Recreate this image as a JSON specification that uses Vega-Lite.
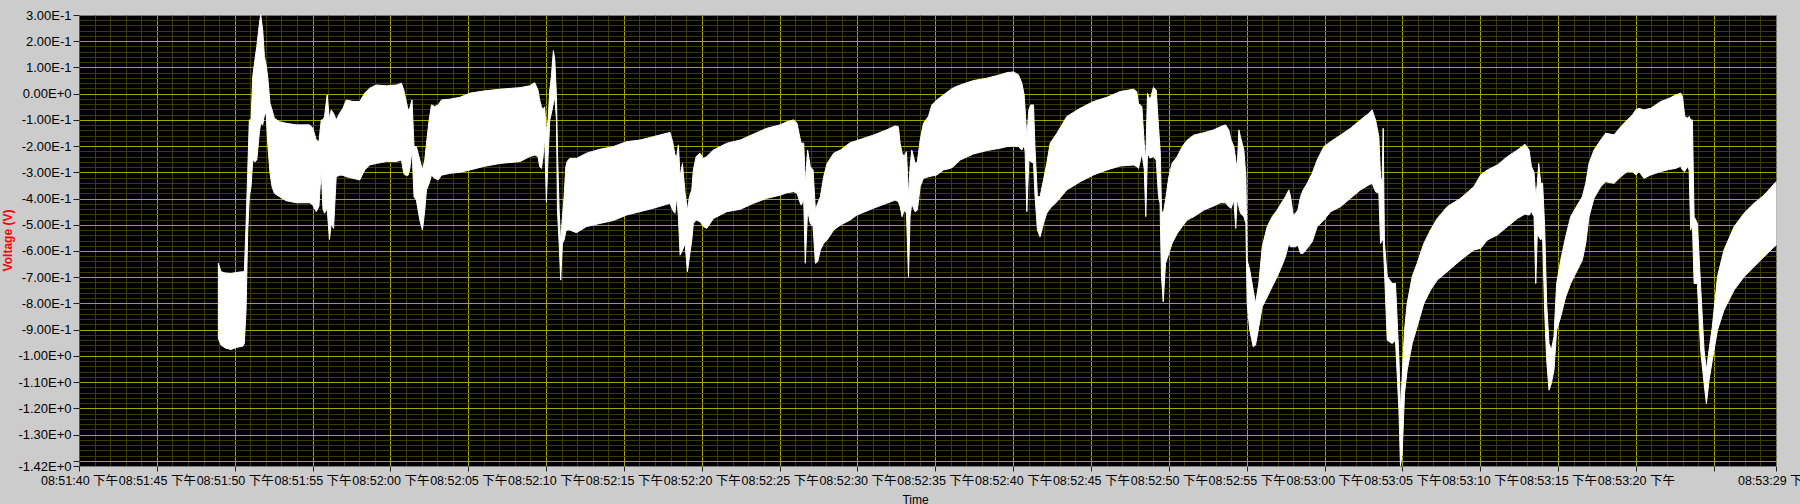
{
  "$schema": "https://vega.github.io/schema/vega-lite/v6.json",
  "width": 1697,
  "height": 451,
  "autosize": {"type": "none"},
  "padding": {"left": 79, "top": 15, "right": 24, "bottom": 38},
  "background": "#cccccc",
  "config": {
    "view": {"fill": "#000000", "stroke": "#7a7a7a", "strokeWidth": 1},
    "axis": {"labelFont": "Liberation Sans, Noto Sans CJK SC", "titleFont": "Liberation Sans"}
  },
  "data": {
    "values": [
      {"t": 8.95, "hi": -0.647, "lo": -0.934},
      {"t": 9.12, "hi": -0.679, "lo": -0.959},
      {"t": 9.4, "hi": -0.684, "lo": -0.97},
      {"t": 9.76, "hi": -0.686, "lo": -0.976},
      {"t": 10.1, "hi": -0.682, "lo": -0.968},
      {"t": 10.52, "hi": -0.679, "lo": -0.963},
      {"t": 10.62, "hi": -0.679, "lo": -0.953},
      {"t": 10.73, "hi": -0.501, "lo": -0.825},
      {"t": 10.84, "hi": -0.291, "lo": -0.52},
      {"t": 10.94, "hi": -0.1, "lo": -0.393},
      {"t": 11.05, "hi": -0.1, "lo": -0.355},
      {"t": 11.16, "hi": 0.065, "lo": -0.253},
      {"t": 11.3, "hi": 0.13, "lo": -0.26},
      {"t": 11.42, "hi": 0.18, "lo": -0.253},
      {"t": 11.59, "hi": 0.269, "lo": -0.145},
      {"t": 11.67, "hi": 0.3, "lo": -0.113},
      {"t": 11.8, "hi": 0.243, "lo": -0.119},
      {"t": 11.91, "hi": 0.141, "lo": -0.081},
      {"t": 12.02, "hi": 0.11, "lo": -0.075},
      {"t": 12.12, "hi": 0.065, "lo": -0.189},
      {"t": 12.27, "hi": -0.037, "lo": -0.304},
      {"t": 12.4, "hi": -0.062, "lo": -0.355},
      {"t": 12.55, "hi": -0.094, "lo": -0.38},
      {"t": 12.88, "hi": -0.107, "lo": -0.393},
      {"t": 13.3, "hi": -0.113, "lo": -0.408},
      {"t": 13.95, "hi": -0.119, "lo": -0.416},
      {"t": 14.81, "hi": -0.119, "lo": -0.416},
      {"t": 15.02, "hi": -0.132, "lo": -0.425},
      {"t": 15.24, "hi": -0.177, "lo": -0.45},
      {"t": 15.41, "hi": -0.183, "lo": -0.43},
      {"t": 15.56, "hi": -0.1, "lo": -0.291},
      {"t": 15.67, "hi": -0.1, "lo": -0.44},
      {"t": 15.77, "hi": -0.087, "lo": -0.456},
      {"t": 15.94, "hi": -0.005, "lo": -0.44},
      {"t": 16.09, "hi": -0.1, "lo": -0.556},
      {"t": 16.2, "hi": -0.062, "lo": -0.495},
      {"t": 16.35, "hi": -0.075, "lo": -0.514},
      {"t": 16.52, "hi": -0.1, "lo": -0.317},
      {"t": 16.74, "hi": -0.075, "lo": -0.311},
      {"t": 16.95, "hi": -0.056, "lo": -0.311},
      {"t": 17.17, "hi": -0.024, "lo": -0.317},
      {"t": 17.6, "hi": -0.03, "lo": -0.323},
      {"t": 18.03, "hi": -0.03, "lo": -0.329},
      {"t": 18.35, "hi": 0.002, "lo": -0.291},
      {"t": 18.67, "hi": 0.021, "lo": -0.272},
      {"t": 19.1, "hi": 0.033, "lo": -0.266},
      {"t": 19.74, "hi": 0.03, "lo": -0.259},
      {"t": 20.39, "hi": 0.033, "lo": -0.259},
      {"t": 20.71, "hi": 0.04, "lo": -0.253},
      {"t": 20.86, "hi": 0.014, "lo": -0.304},
      {"t": 20.97, "hi": -0.017, "lo": -0.311},
      {"t": 21.14, "hi": -0.062, "lo": -0.311},
      {"t": 21.24, "hi": -0.056, "lo": -0.291},
      {"t": 21.39, "hi": -0.024, "lo": -0.215},
      {"t": 21.52, "hi": -0.202, "lo": -0.393},
      {"t": 21.67, "hi": -0.202, "lo": -0.406},
      {"t": 21.89, "hi": -0.253, "lo": -0.482},
      {"t": 22.06, "hi": -0.291, "lo": -0.52},
      {"t": 22.21, "hi": -0.253, "lo": -0.444},
      {"t": 22.32, "hi": -0.189, "lo": -0.367},
      {"t": 22.49, "hi": -0.1, "lo": -0.342},
      {"t": 22.64, "hi": -0.043, "lo": -0.311},
      {"t": 22.85, "hi": -0.049, "lo": -0.323},
      {"t": 23.07, "hi": -0.043, "lo": -0.329},
      {"t": 23.28, "hi": -0.024, "lo": -0.311},
      {"t": 23.82, "hi": -0.021, "lo": -0.304},
      {"t": 24.46, "hi": -0.014, "lo": -0.3},
      {"t": 25.11, "hi": 0.002, "lo": -0.291},
      {"t": 25.97, "hi": 0.01, "lo": -0.278},
      {"t": 27.04, "hi": 0.017, "lo": -0.266},
      {"t": 28.33, "hi": 0.023, "lo": -0.259},
      {"t": 28.95, "hi": 0.03, "lo": -0.24},
      {"t": 29.27, "hi": 0.042, "lo": -0.234},
      {"t": 29.48, "hi": 0.014, "lo": -0.24},
      {"t": 29.59, "hi": -0.024, "lo": -0.278},
      {"t": 29.7, "hi": -0.049, "lo": -0.285},
      {"t": 29.81, "hi": -0.062, "lo": -0.24},
      {"t": 29.91, "hi": -0.05, "lo": -0.164},
      {"t": 30.02, "hi": -0.151, "lo": -0.412},
      {"t": 30.13, "hi": -0.1, "lo": -0.24},
      {"t": 30.24, "hi": 0.014, "lo": -0.1},
      {"t": 30.34, "hi": 0.065, "lo": -0.075},
      {"t": 30.47, "hi": 0.164, "lo": -0.037},
      {"t": 30.56, "hi": 0.129, "lo": -0.011},
      {"t": 30.67, "hi": -0.011, "lo": -0.1},
      {"t": 30.73, "hi": -0.215, "lo": -0.444},
      {"t": 30.84, "hi": -0.444, "lo": -0.571},
      {"t": 30.94, "hi": -0.571, "lo": -0.711},
      {"t": 31.05, "hi": -0.469, "lo": -0.571},
      {"t": 31.16, "hi": -0.393, "lo": -0.558},
      {"t": 31.27, "hi": -0.278, "lo": -0.526},
      {"t": 31.35, "hi": -0.259, "lo": -0.52},
      {"t": 31.52, "hi": -0.247, "lo": -0.52},
      {"t": 31.95, "hi": -0.247, "lo": -0.53},
      {"t": 32.6, "hi": -0.227, "lo": -0.507},
      {"t": 33.45, "hi": -0.212, "lo": -0.495},
      {"t": 34.31, "hi": -0.202, "lo": -0.484},
      {"t": 35.17, "hi": -0.183, "lo": -0.463},
      {"t": 36.03, "hi": -0.177, "lo": -0.45},
      {"t": 36.89, "hi": -0.164, "lo": -0.437},
      {"t": 37.75, "hi": -0.151, "lo": -0.422},
      {"t": 37.96, "hi": -0.148, "lo": -0.418},
      {"t": 38.13, "hi": -0.183, "lo": -0.444},
      {"t": 38.28, "hi": -0.234, "lo": -0.456},
      {"t": 38.39, "hi": -0.24, "lo": -0.393},
      {"t": 38.5, "hi": -0.196, "lo": -0.469},
      {"t": 38.61, "hi": -0.317, "lo": -0.616},
      {"t": 38.76, "hi": -0.266, "lo": -0.597},
      {"t": 38.93, "hi": -0.38, "lo": -0.571},
      {"t": 39.08, "hi": -0.444, "lo": -0.679},
      {"t": 39.21, "hi": -0.393, "lo": -0.622},
      {"t": 39.36, "hi": -0.367, "lo": -0.558},
      {"t": 39.46, "hi": -0.291, "lo": -0.495},
      {"t": 39.64, "hi": -0.24, "lo": -0.482},
      {"t": 39.89, "hi": -0.227, "lo": -0.488},
      {"t": 40.11, "hi": -0.247, "lo": -0.507},
      {"t": 40.32, "hi": -0.24, "lo": -0.514},
      {"t": 40.75, "hi": -0.215, "lo": -0.476},
      {"t": 41.61, "hi": -0.189, "lo": -0.45},
      {"t": 42.47, "hi": -0.177, "lo": -0.441},
      {"t": 43.33, "hi": -0.154, "lo": -0.418},
      {"t": 44.18, "hi": -0.132, "lo": -0.399},
      {"t": 45.04, "hi": -0.119, "lo": -0.387},
      {"t": 45.47, "hi": -0.107, "lo": -0.378},
      {"t": 45.9, "hi": -0.1, "lo": -0.374},
      {"t": 46.12, "hi": -0.113, "lo": -0.38},
      {"t": 46.29, "hi": -0.164, "lo": -0.412},
      {"t": 46.39, "hi": -0.189, "lo": -0.425},
      {"t": 46.55, "hi": -0.189, "lo": -0.406},
      {"t": 46.65, "hi": -0.342, "lo": -0.647},
      {"t": 46.8, "hi": -0.215, "lo": -0.444},
      {"t": 46.97, "hi": -0.278, "lo": -0.495},
      {"t": 47.15, "hi": -0.291, "lo": -0.507},
      {"t": 47.3, "hi": -0.444, "lo": -0.647},
      {"t": 47.45, "hi": -0.418, "lo": -0.64},
      {"t": 47.62, "hi": -0.393, "lo": -0.596},
      {"t": 47.83, "hi": -0.317, "lo": -0.571},
      {"t": 48.05, "hi": -0.266, "lo": -0.558},
      {"t": 48.48, "hi": -0.227, "lo": -0.52},
      {"t": 48.91, "hi": -0.215, "lo": -0.501},
      {"t": 49.53, "hi": -0.187, "lo": -0.482},
      {"t": 49.96, "hi": -0.179, "lo": -0.463},
      {"t": 51.03, "hi": -0.158, "lo": -0.437},
      {"t": 51.88, "hi": -0.138, "lo": -0.418},
      {"t": 52.42, "hi": -0.123, "lo": -0.406},
      {"t": 52.63, "hi": -0.126, "lo": -0.412},
      {"t": 52.74, "hi": -0.189, "lo": -0.431},
      {"t": 52.87, "hi": -0.227, "lo": -0.469},
      {"t": 53.0, "hi": -0.24, "lo": -0.444},
      {"t": 53.15, "hi": -0.221, "lo": -0.456},
      {"t": 53.28, "hi": -0.393, "lo": -0.698},
      {"t": 53.38, "hi": -0.278, "lo": -0.469},
      {"t": 53.49, "hi": -0.215, "lo": -0.418},
      {"t": 53.6, "hi": -0.24, "lo": -0.437},
      {"t": 53.7, "hi": -0.266, "lo": -0.45},
      {"t": 53.85, "hi": -0.259, "lo": -0.444},
      {"t": 54.03, "hi": -0.177, "lo": -0.355},
      {"t": 54.24, "hi": -0.113, "lo": -0.323},
      {"t": 54.56, "hi": -0.087, "lo": -0.317},
      {"t": 54.78, "hi": -0.043, "lo": -0.314},
      {"t": 55.1, "hi": -0.024, "lo": -0.31},
      {"t": 55.52, "hi": -0.005, "lo": -0.291},
      {"t": 55.95, "hi": 0.014, "lo": -0.285},
      {"t": 56.17, "hi": 0.023, "lo": -0.278},
      {"t": 56.6, "hi": 0.033, "lo": -0.253},
      {"t": 57.45, "hi": 0.05, "lo": -0.23},
      {"t": 58.31, "hi": 0.059, "lo": -0.217},
      {"t": 59.16, "hi": 0.072, "lo": -0.208},
      {"t": 59.59, "hi": 0.08, "lo": -0.202},
      {"t": 60.02, "hi": 0.083, "lo": -0.2},
      {"t": 60.34, "hi": 0.072, "lo": -0.202},
      {"t": 60.56, "hi": 0.04, "lo": -0.215},
      {"t": 60.71, "hi": -0.005, "lo": -0.196},
      {"t": 60.77, "hi": -0.062, "lo": -0.221},
      {"t": 60.88, "hi": -0.164, "lo": -0.45},
      {"t": 61.01, "hi": -0.062, "lo": -0.253},
      {"t": 61.13, "hi": -0.043, "lo": -0.259},
      {"t": 61.31, "hi": -0.043, "lo": -0.266},
      {"t": 61.41, "hi": -0.215, "lo": -0.393},
      {"t": 61.56, "hi": -0.393, "lo": -0.52},
      {"t": 61.73, "hi": -0.393, "lo": -0.546},
      {"t": 61.95, "hi": -0.329, "lo": -0.495},
      {"t": 62.16, "hi": -0.266, "lo": -0.456},
      {"t": 62.38, "hi": -0.189, "lo": -0.437},
      {"t": 62.81, "hi": -0.151, "lo": -0.412},
      {"t": 63.45, "hi": -0.087, "lo": -0.367},
      {"t": 64.3, "hi": -0.056, "lo": -0.336},
      {"t": 65.16, "hi": -0.03, "lo": -0.31},
      {"t": 66.02, "hi": -0.014, "lo": -0.291},
      {"t": 66.87, "hi": 0.008, "lo": -0.276},
      {"t": 67.73, "hi": 0.017, "lo": -0.272},
      {"t": 67.94, "hi": 0.008, "lo": -0.278},
      {"t": 68.05, "hi": -0.037, "lo": -0.285},
      {"t": 68.27, "hi": -0.049, "lo": -0.227},
      {"t": 68.42, "hi": -0.189, "lo": -0.285},
      {"t": 68.52, "hi": -0.253, "lo": -0.469},
      {"t": 68.63, "hi": 0.001, "lo": -0.227},
      {"t": 68.8, "hi": -0.024, "lo": -0.246},
      {"t": 69.01, "hi": 0.024, "lo": -0.24},
      {"t": 69.19, "hi": 0.014, "lo": -0.253},
      {"t": 69.34, "hi": -0.126, "lo": -0.393},
      {"t": 69.44, "hi": -0.215, "lo": -0.42},
      {"t": 69.46, "hi": -0.24, "lo": -0.5},
      {"t": 69.53, "hi": -0.444, "lo": -0.698},
      {"t": 69.64, "hi": -0.46, "lo": -0.794},
      {"t": 69.79, "hi": -0.406, "lo": -0.647},
      {"t": 70.0, "hi": -0.317, "lo": -0.609},
      {"t": 70.21, "hi": -0.266, "lo": -0.571},
      {"t": 70.54, "hi": -0.24, "lo": -0.533},
      {"t": 70.86, "hi": -0.202, "lo": -0.507},
      {"t": 71.18, "hi": -0.177, "lo": -0.482},
      {"t": 71.61, "hi": -0.158, "lo": -0.469},
      {"t": 72.25, "hi": -0.149, "lo": -0.444},
      {"t": 72.89, "hi": -0.138, "lo": -0.428},
      {"t": 73.32, "hi": -0.126, "lo": -0.416},
      {"t": 73.64, "hi": -0.119, "lo": -0.416},
      {"t": 73.85, "hi": -0.138, "lo": -0.431},
      {"t": 74.0, "hi": -0.177, "lo": -0.437},
      {"t": 74.18, "hi": -0.202, "lo": -0.406},
      {"t": 74.3, "hi": -0.253, "lo": -0.514},
      {"t": 74.39, "hi": -0.291, "lo": -0.4},
      {"t": 74.5, "hi": -0.138, "lo": -0.431},
      {"t": 74.6, "hi": -0.164, "lo": -0.456},
      {"t": 74.82, "hi": -0.215, "lo": -0.469},
      {"t": 74.95, "hi": -0.317, "lo": -0.495},
      {"t": 75.03, "hi": -0.635, "lo": -0.8},
      {"t": 75.2, "hi": -0.673, "lo": -0.902},
      {"t": 75.42, "hi": -0.749, "lo": -0.965},
      {"t": 75.57, "hi": -0.8, "lo": -0.959},
      {"t": 75.78, "hi": -0.724, "lo": -0.889},
      {"t": 76.0, "hi": -0.584, "lo": -0.813},
      {"t": 76.32, "hi": -0.507, "lo": -0.775},
      {"t": 76.64, "hi": -0.469, "lo": -0.736},
      {"t": 76.96, "hi": -0.444, "lo": -0.698},
      {"t": 77.28, "hi": -0.412, "lo": -0.654},
      {"t": 77.49, "hi": -0.393, "lo": -0.622},
      {"t": 77.71, "hi": -0.367, "lo": -0.571},
      {"t": 77.82, "hi": -0.393, "lo": -0.584},
      {"t": 77.99, "hi": -0.463, "lo": -0.584},
      {"t": 78.14, "hi": -0.456, "lo": -0.584},
      {"t": 78.29, "hi": -0.444, "lo": -0.577},
      {"t": 78.46, "hi": -0.393, "lo": -0.609},
      {"t": 78.63, "hi": -0.367, "lo": -0.609},
      {"t": 78.89, "hi": -0.342, "lo": -0.59},
      {"t": 79.21, "hi": -0.304, "lo": -0.565},
      {"t": 79.53, "hi": -0.253, "lo": -0.507},
      {"t": 79.96, "hi": -0.202, "lo": -0.482},
      {"t": 80.39, "hi": -0.183, "lo": -0.45},
      {"t": 81.03, "hi": -0.158, "lo": -0.431},
      {"t": 81.67, "hi": -0.132, "lo": -0.399},
      {"t": 82.31, "hi": -0.1, "lo": -0.367},
      {"t": 82.85, "hi": -0.075, "lo": -0.348},
      {"t": 83.06, "hi": -0.062, "lo": -0.342},
      {"t": 83.28, "hi": -0.1, "lo": -0.374},
      {"t": 83.49, "hi": -0.164, "lo": -0.38},
      {"t": 83.6, "hi": -0.317, "lo": -0.571},
      {"t": 83.7, "hi": -0.342, "lo": -0.558},
      {"t": 83.77, "hi": -0.132, "lo": -0.558},
      {"t": 83.85, "hi": -0.571, "lo": -0.673},
      {"t": 84.03, "hi": -0.698, "lo": -0.94},
      {"t": 84.35, "hi": -0.724, "lo": -0.953},
      {"t": 84.56, "hi": -0.724, "lo": -0.94},
      {"t": 84.78, "hi": -1.01, "lo": -1.207},
      {"t": 84.88, "hi": -1.207, "lo": -1.42},
      {"t": 84.99, "hi": -1.08, "lo": -1.37},
      {"t": 85.14, "hi": -0.902, "lo": -1.143},
      {"t": 85.31, "hi": -0.8, "lo": -1.054},
      {"t": 85.63, "hi": -0.698, "lo": -0.953},
      {"t": 85.95, "hi": -0.647, "lo": -0.889},
      {"t": 86.38, "hi": -0.571, "lo": -0.8},
      {"t": 86.81, "hi": -0.52, "lo": -0.749},
      {"t": 87.24, "hi": -0.476, "lo": -0.711},
      {"t": 87.88, "hi": -0.431, "lo": -0.679},
      {"t": 88.74, "hi": -0.399, "lo": -0.635},
      {"t": 89.59, "hi": -0.355, "lo": -0.596},
      {"t": 90.03, "hi": -0.31, "lo": -0.59},
      {"t": 90.46, "hi": -0.291, "lo": -0.558},
      {"t": 91.1, "hi": -0.272, "lo": -0.539},
      {"t": 91.75, "hi": -0.24, "lo": -0.507},
      {"t": 92.39, "hi": -0.215, "lo": -0.476},
      {"t": 92.88, "hi": -0.193, "lo": -0.459},
      {"t": 93.14, "hi": -0.215, "lo": -0.463},
      {"t": 93.29, "hi": -0.278, "lo": -0.45},
      {"t": 93.46, "hi": -0.3, "lo": -0.469},
      {"t": 93.57, "hi": -0.393, "lo": -0.724},
      {"t": 93.67, "hi": -0.342, "lo": -0.53},
      {"t": 93.76, "hi": -0.266, "lo": -0.545},
      {"t": 93.89, "hi": -0.342, "lo": -0.558},
      {"t": 94.01, "hi": -0.342, "lo": -0.545},
      {"t": 94.14, "hi": -0.507, "lo": -0.825},
      {"t": 94.27, "hi": -0.8, "lo": -1.016},
      {"t": 94.42, "hi": -0.953, "lo": -1.131},
      {"t": 94.57, "hi": -0.978, "lo": -1.105},
      {"t": 94.74, "hi": -0.927, "lo": -1.054},
      {"t": 94.91, "hi": -0.724, "lo": -0.902},
      {"t": 95.17, "hi": -0.635, "lo": -0.851},
      {"t": 95.49, "hi": -0.546, "lo": -0.775},
      {"t": 95.81, "hi": -0.469, "lo": -0.724},
      {"t": 96.24, "hi": -0.425, "lo": -0.673},
      {"t": 96.56, "hi": -0.393, "lo": -0.635},
      {"t": 96.78, "hi": -0.342, "lo": -0.571},
      {"t": 96.99, "hi": -0.266, "lo": -0.469},
      {"t": 97.31, "hi": -0.215, "lo": -0.399},
      {"t": 97.74, "hi": -0.177, "lo": -0.355},
      {"t": 98.06, "hi": -0.151, "lo": -0.336},
      {"t": 98.6, "hi": -0.157, "lo": -0.342},
      {"t": 99.03, "hi": -0.126, "lo": -0.317},
      {"t": 99.45, "hi": -0.1, "lo": -0.297},
      {"t": 99.78, "hi": -0.081, "lo": -0.297},
      {"t": 99.99, "hi": -0.062, "lo": -0.31},
      {"t": 100.2, "hi": -0.056, "lo": -0.297},
      {"t": 100.52, "hi": -0.062, "lo": -0.323},
      {"t": 100.95, "hi": -0.056, "lo": -0.31},
      {"t": 101.27, "hi": -0.043, "lo": -0.304},
      {"t": 101.6, "hi": -0.03, "lo": -0.297},
      {"t": 102.13, "hi": -0.018, "lo": -0.289},
      {"t": 102.56, "hi": -0.005, "lo": -0.285},
      {"t": 102.88, "hi": 0.002, "lo": -0.276},
      {"t": 102.99, "hi": -0.011, "lo": -0.291},
      {"t": 103.14, "hi": -0.087, "lo": -0.297},
      {"t": 103.31, "hi": -0.094, "lo": -0.278},
      {"t": 103.42, "hi": -0.087, "lo": -0.291},
      {"t": 103.52, "hi": -0.1, "lo": -0.52},
      {"t": 103.63, "hi": -0.1, "lo": -0.495},
      {"t": 103.74, "hi": -0.469, "lo": -0.724},
      {"t": 103.95, "hi": -0.495, "lo": -0.724},
      {"t": 104.16, "hi": -0.736, "lo": -0.978},
      {"t": 104.38, "hi": -0.978, "lo": -1.105},
      {"t": 104.53, "hi": -1.054, "lo": -1.182},
      {"t": 104.7, "hi": -0.978, "lo": -1.094},
      {"t": 104.91, "hi": -0.889, "lo": -1.016},
      {"t": 105.24, "hi": -0.698, "lo": -0.902},
      {"t": 105.66, "hi": -0.596, "lo": -0.825},
      {"t": 106.31, "hi": -0.507, "lo": -0.749},
      {"t": 106.95, "hi": -0.456, "lo": -0.698},
      {"t": 107.59, "hi": -0.418, "lo": -0.66},
      {"t": 108.23, "hi": -0.387, "lo": -0.622},
      {"t": 109.0, "hi": -0.336, "lo": -0.577}
    ]
  },
  "layer": [
    {
      "mark": {"type": "area", "opacity": 0},
      "encoding": {
        "x": {
          "field": "t", "type": "quantitative",
          "scale": {"domain": [0, 109], "nice": false, "zero": false},
          "axis": {
            "orient": "top", "title": null, "labels": false, "ticks": false, "domain": false,
            "grid": true, "gridColor": "#3c3c00", "gridWidth": 1,
            "values": [1,2,3,4,6,7,8,9,11,12,13,14,16,17,18,19,21,22,23,24,26,27,28,29,31,32,33,34,36,37,38,39,41,42,43,44,46,47,48,49,51,52,53,54,56,57,58,59,61,62,63,64,66,67,68,69,71,72,73,74,76,77,78,79,81,82,83,84,86,87,88,89,91,92,93,94,96,97,98,99,101,102,103,104,106,107,108]
          }
        },
        "y": {
          "field": "hi", "type": "quantitative",
          "scale": {"domain": [-1.42, 0.3], "nice": false, "zero": false},
          "axis": {
            "orient": "right", "title": null, "labels": false, "ticks": false, "domain": false,
            "grid": true, "gridColor": "#3c3c00", "gridWidth": 1,
            "values": [0.28,0.26,0.24,0.22,0.18,0.16,0.14,0.12,0.08,0.06,0.04,0.02,-0.02,-0.04,-0.06,-0.08,-0.12,-0.14,-0.16,-0.18,-0.22,-0.24,-0.26,-0.28,-0.32,-0.34,-0.36,-0.38,-0.42,-0.44,-0.46,-0.48,-0.52,-0.54,-0.56,-0.58,-0.62,-0.64,-0.66,-0.68,-0.72,-0.74,-0.76,-0.78,-0.82,-0.84,-0.86,-0.88,-0.92,-0.94,-0.96,-0.98,-1.02,-1.04,-1.06,-1.08,-1.12,-1.14,-1.16,-1.18,-1.22,-1.24,-1.26,-1.28,-1.32,-1.34,-1.36,-1.38]
          }
        },
        "y2": {"field": "lo"}
      }
    },
    {
      "mark": {"type": "area", "color": "#ffffff", "stroke": "#ffffff", "strokeWidth": 1, "interpolate": "linear"},
      "encoding": {
        "x": {
          "field": "t", "type": "quantitative",
          "scale": {"domain": [0, 109], "nice": false, "zero": false},
          "axis": {
            "orient": "bottom",
            "values": [0,5,10,15,20,25,30,35,40,45,50,55,60,65,70,75,80,85,90,95,100,105,109],
            "labelExpr": "datum.value == 105 ? '' : utcFormat((datum.value + 75100) * 1000, '%I:%M:%S') + ' 下午'",
            "labelFlush": false, "labelOverlap": false, "labelBound": false,
            "labelFontSize": 12.5, "labelColor": "#000000", "labelPadding": 3,
            "ticks": true, "tickSize": 5, "tickColor": "#202020",
            "domain": true, "domainColor": "#7a7a7a",
            "grid": true, "gridWidth": 1,
            "gridColor": {"condition": {"test": "datum.value == 0 || datum.value == 109", "value": "transparent"}, "value": "#a6a600"},
            "title": "Time", "titleFontSize": 12, "titleFontWeight": "normal", "titleColor": "#000000",
            "titleAlign": "center", "titleBaseline": "top", "titleX": 836, "titleY": 28
          }
        },
        "y": {
          "field": "hi", "type": "quantitative",
          "scale": {"domain": [-1.42, 0.3], "nice": false, "zero": false},
          "axis": {
            "orient": "left",
            "values": [0.3,0.2,0.1,0,-0.1,-0.2,-0.3,-0.4,-0.5,-0.6,-0.7,-0.8,-0.9,-1.0,-1.1,-1.2,-1.3,-1.4,-1.42],
            "labelExpr": "datum.value == -1.4 ? '' : (datum.value < 0 ? '-' : '') + (abs(datum.value) > 0.999 ? format(abs(datum.value), '.2f') + 'E+0' : (datum.value == 0 ? '0.00E+0' : format(abs(datum.value) * 10, '.2f') + 'E-1'))",
            "labelOverlap": false, "labelFlush": false, "labelBound": false,
            "labelFontSize": 13, "labelColor": "#000000", "labelPadding": 2,
            "ticks": true, "tickSize": 6, "tickColor": "#202020",
            "domain": true, "domainColor": "#505050",
            "grid": true, "gridWidth": 1,
            "gridColor": {"condition": {"test": "datum.value == 0.3 || datum.value == -1.42", "value": "transparent"}, "value": "#a6a600"},
            "title": "Voltage (V)", "titleColor": "#ff0000", "titleFontWeight": "bold", "titleFontSize": 12,
            "titleAngle": -90, "titleAlign": "center", "titleBaseline": "middle", "titleX": -72, "titleY": 225
          }
        },
        "y2": {"field": "lo"}
      }
    }
  ],
  "resolve": {"axis": {"x": "independent", "y": "independent"}}
}
